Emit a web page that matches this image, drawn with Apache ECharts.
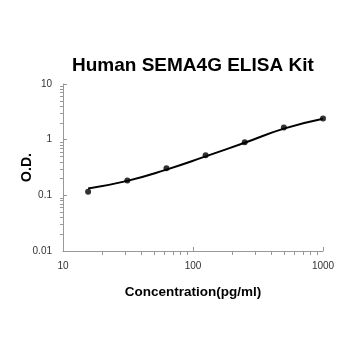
<!DOCTYPE html>
<html><head><meta charset="utf-8">
<script src="https://cdn.jsdelivr.net/npm/echarts@6/dist/echarts.min.js"></script>
<style>html,body{margin:0;padding:0;background:#fff}#c{width:350px;height:350px}</style>
</head><body><div id="c"></div>
<script>
const title = "Human SEMA4G ELISA Kit";
const xName = "Concentration(pg/ml)";
const yName = "O.D.";
const concentrations = [15.6, 31.25, 62.5, 125, 250, 500, 1000];
const odValues = [0.116, 0.185, 0.307, 0.525, 0.895, 1.66, 2.40];
const curveX = [15.6, 31.25, 62.5, 125, 250, 500, 1000];
const curveY = [0.133, 0.182, 0.29, 0.50, 0.88, 1.58, 2.38];

const chart = echarts.init(document.getElementById('c'), null, {renderer:'canvas'});
const font = 'Arial, "Liberation Sans", sans-serif';
chart.setOption({
  animation:false,
  title:{text:title,left:67,top:51,textStyle:{fontFamily:font,fontSize:19,fontWeight:'bold',color:'#000'}},
  grid:{left:63,right:27,top:84,bottom:99},
  xAxis:{type:'log',min:10,max:1000,logBase:10,
    name:xName,nameLocation:'middle',nameGap:34,
    nameTextStyle:{fontFamily:font,fontSize:13.5,fontWeight:'bold',color:'#000'},
    axisLine:{lineStyle:{color:'#999',width:1}},
    axisTick:{show:true,inside:true,length:4,lineStyle:{color:'#999'}},
    minorTick:{show:true,splitNumber:9,length:-4,lineStyle:{color:'#999'}},
    splitLine:{show:false},
    axisLabel:{fontFamily:font,fontSize:10,color:'#333',margin:10,formatter:v=>String(v)}},
  yAxis:{type:'log',min:0.01,max:10,logBase:10,
    name:yName,nameLocation:'middle',nameGap:29,nameMoveOverlap:false,
    nameTextStyle:{fontFamily:font,fontSize:14,fontWeight:'bold',color:'#000'},
    axisLine:{show:true,lineStyle:{color:'#999',width:1}},
    axisTick:{show:true,inside:true,length:4,lineStyle:{color:'#999'}},
    minorTick:{show:true,splitNumber:9,length:-3,lineStyle:{color:'#999'}},
    splitLine:{show:false},
    axisLabel:{fontFamily:font,fontSize:10,color:'#333',margin:11,formatter:v=>String(v)}},
  series:[
    {type:'line',smooth:true,showSymbol:false,data:curveX.map((x,i)=>[x,curveY[i]]),lineStyle:{color:'#000',width:2}},
    {type:'scatter',symbolSize:6,data:concentrations.map((x,i)=>[x,odValues[i]]),itemStyle:{color:'#000'}}
  ]
});
</script></body></html>
